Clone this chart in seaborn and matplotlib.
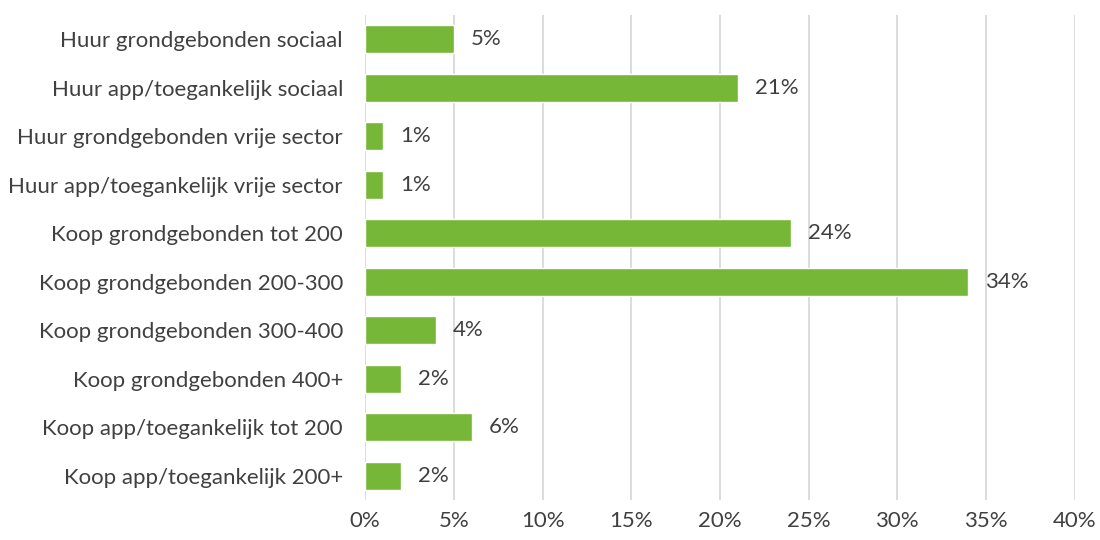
import matplotlib
matplotlib.use("Agg")
import matplotlib.pyplot as plt
import seaborn as sns
import pandas as pd

categories = [
    "Huur grondgebonden sociaal",
    "Huur app/toegankelijk sociaal",
    "Huur grondgebonden vrije sector",
    "Huur app/toegankelijk vrije sector",
    "Koop grondgebonden tot 200",
    "Koop grondgebonden 200-300",
    "Koop grondgebonden 300-400",
    "Koop grondgebonden 400+",
    "Koop app/toegankelijk tot 200",
    "Koop app/toegankelijk 200+",
]
shares = [5, 21, 1, 1, 24, 34, 4, 2, 6, 2]
x_ticks = [0, 5, 10, 15, 20, 25, 30, 35, 40]

sns.set_theme(style="white")
plt.rcParams["font.family"] = ["Lato", "DejaVu Sans"]

df = pd.DataFrame({"categorie": categories, "aandeel": shares})

fig = plt.figure(figsize=(11, 5.4), dpi=100)
ax = fig.add_axes([0.332, 0.074, 0.645, 0.898])

sns.barplot(data=df, y="categorie", x="aandeel", orient="h",
            color="#76B737", saturation=1, width=0.58, ax=ax)

ax.set_xlim(0, 40)
ax.set_xticks(x_ticks)
ax.set_xticklabels([f"{t}%" for t in x_ticks])
ax.grid(axis="x", color="#D9D9D9", linewidth=1.3)
ax.set_axisbelow(True)
for s in ax.spines.values():
    s.set_visible(False)
ax.set_xlabel("")
ax.set_ylabel("")
ax.tick_params(axis="both", length=0, labelsize=16, labelcolor="#404040")
ax.tick_params(axis="y", pad=16)
ax.tick_params(axis="x", pad=8)

for i, v in enumerate(shares):
    ax.text(v + 0.95, i, f"{v}%", va="center", ha="left",
            fontsize=16, color="#404040")

fig.savefig("out.png", dpi=100, facecolor="white")
